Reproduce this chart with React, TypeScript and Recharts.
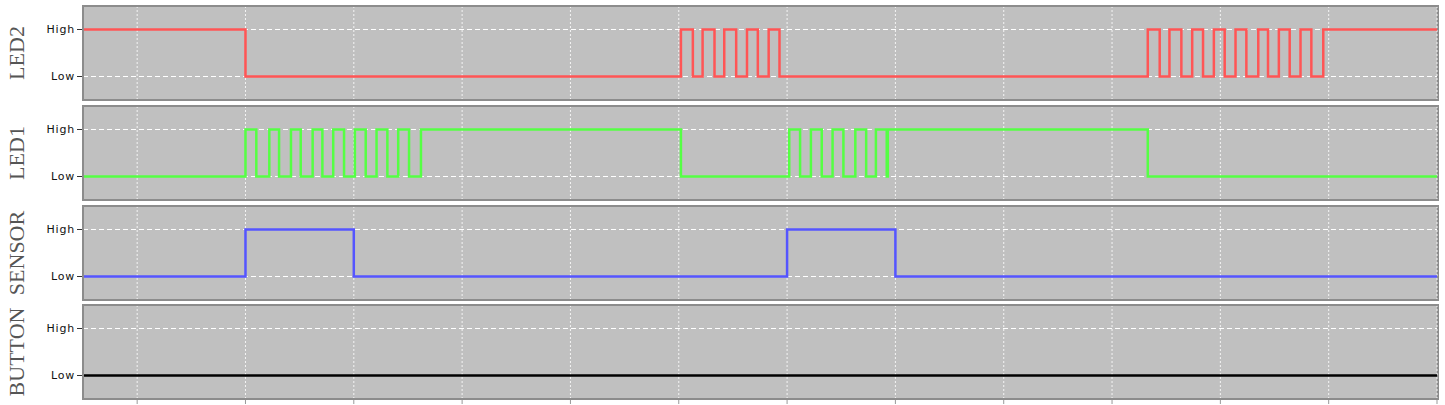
import { CartesianGrid, Line, LineChart, XAxis, YAxis } from 'recharts'

// time axis: gridlines every 10 units, plot spans 0..125
const TIME_TICKS = [5, 15, 25, 35, 45, 55, 65, 75, 85, 95, 105, 115, 125]
const LEVEL_TICKS = [0, 1]
const LEVEL_LABELS = ['Low', 'High']

// [time, level] transitions
const LED2: Array<[number, number]> = [
  [0, 1], [15, 0],
  [55.2, 1], [56.3, 0], [57.2, 1], [58.3, 0], [59.2, 1], [60.3, 0], [61.3, 1], [62.3, 0], [63.3, 1], [64.3, 0],
  [98.3, 1], [99.4, 0], [100.3, 1], [101.4, 0], [102.4, 1], [103.4, 0], [104.4, 1], [105.4, 0],
  [106.4, 1], [107.4, 0], [108.5, 1], [109.4, 0], [110.4, 1], [111.4, 0], [112.4, 1], [113.4, 0],
  [114.5, 1], [125, 1],
]

const LED1: Array<[number, number]> = [
  [0, 0], [15, 1], [16, 0], [17.2, 1], [18.1, 0], [19.2, 1], [20.1, 0], [21.2, 1], [22.1, 0],
  [23.1, 1], [24.1, 0], [25.1, 1], [26.1, 0], [27.1, 1], [28.1, 0], [29.1, 1], [30.1, 0], [31.2, 1],
  [55.2, 0],
  [65.2, 1], [66.2, 0], [67.2, 1], [68.2, 0], [69.2, 1], [70.2, 0], [71.3, 1], [72.3, 0], [73.2, 1], [74.2, 0], [74.3, 1],
  [98.3, 0], [125, 0],
]

const SENSOR: Array<[number, number]> = [
  [0, 0], [15, 1], [25, 0], [65, 1], [75, 0], [125, 0],
]

const BUTTON: Array<[number, number]> = [
  [0, 0], [125, 0],
]

const CHANNELS = [
  { name: 'LED2', samples: LED2, color: '#ff5555', top: 6 },
  { name: 'LED1', samples: LED1, color: '#55ff44', top: 106 },
  { name: 'SENSOR', samples: SENSOR, color: '#5555ff', top: 206 },
  { name: 'BUTTON', samples: BUTTON, color: '#000000', top: 305 },
]

const PLOT_H = 94
const BORDER = '2px solid #8c8c8c'

function SignalPanel({
  name,
  samples,
  color,
  top,
  showAxis,
}: {
  name: string
  samples: Array<[number, number]>
  color: string
  top: number
  showAxis: boolean
}) {
  const data = samples.map(([t, level]) => ({ t, level }))
  const height = showAxis ? PLOT_H + 6 : PLOT_H
  const frame = {
    position: 'absolute' as const,
    left: 82,
    top: -1,
    width: 1357,
    height: PLOT_H + 2,
    boxSizing: 'border-box' as const,
  }

  return (
    <div style={{ position: 'absolute', left: 0, top, width: 1445, height }}>
      <div style={{ ...frame, border: BORDER, background: '#c0c0c0' }} />
      <div style={{ position: 'absolute', left: 0, top: 0 }}>
        <LineChart width={1445} height={height} data={data} margin={{ top: 0, right: 8, bottom: 0, left: 0 }}>
          <CartesianGrid vertical={false} stroke="#ffffff" strokeDasharray="5 3" />
          <CartesianGrid horizontal={false} stroke="#f4f4f4" strokeDasharray="2 2" />
          <XAxis
            type="number"
            dataKey="t"
            domain={[0, 125]}
            ticks={TIME_TICKS}
            allowDataOverflow
            height={showAxis ? 6 : 0}
            axisLine={false}
            tickLine={showAxis ? { stroke: '#999999' } : false}
            tickSize={5}
            tickFormatter={() => ''}
          />
          <YAxis
            type="number"
            domain={[-0.5, 1.5]}
            ticks={LEVEL_TICKS}
            width={83}
            axisLine={false}
            tickSize={6}
            tickMargin={2}
            tickLine={{ stroke: '#333333' }}
            tickFormatter={(v: number) => LEVEL_LABELS[v] ?? ''}
            tick={{ fontSize: 11, fill: '#111111', fontFamily: 'DejaVu Sans', letterSpacing: 0.8 }}
            label={{
              value: name,
              content: () => (
                <text
                  x={16}
                  y={PLOT_H / 2}
                  transform={`rotate(-90 16 ${PLOT_H / 2})`}
                  textAnchor="middle"
                  dominantBaseline="central"
                  fontFamily="Liberation Serif"
                  fontSize={22}
                  fill="#555555"
                >
                  {name}
                </text>
              ),
            }}
          />
          <Line
            type="stepAfter"
            dataKey="level"
            stroke={color}
            strokeWidth={2.5}
            dot={false}
            activeDot={false}
            isAnimationActive={false}
          />
        </LineChart>
      </div>
      {/* solid frame over the grid on the top, left and bottom edges */}
      <div
        style={{
          ...frame,
          borderTop: BORDER,
          borderLeft: BORDER,
          borderBottom: BORDER,
          pointerEvents: 'none',
        }}
      />
    </div>
  )
}

export default function App() {
  return (
    <div style={{ position: 'absolute', left: 0, top: 0, width: 1445, height: 405, background: '#ffffff' }}>
      {CHANNELS.map((ch, i) => (
        <SignalPanel
          key={ch.name}
          name={ch.name}
          samples={ch.samples}
          color={ch.color}
          top={ch.top}
          showAxis={i === CHANNELS.length - 1}
        />
      ))}
    </div>
  )
}
